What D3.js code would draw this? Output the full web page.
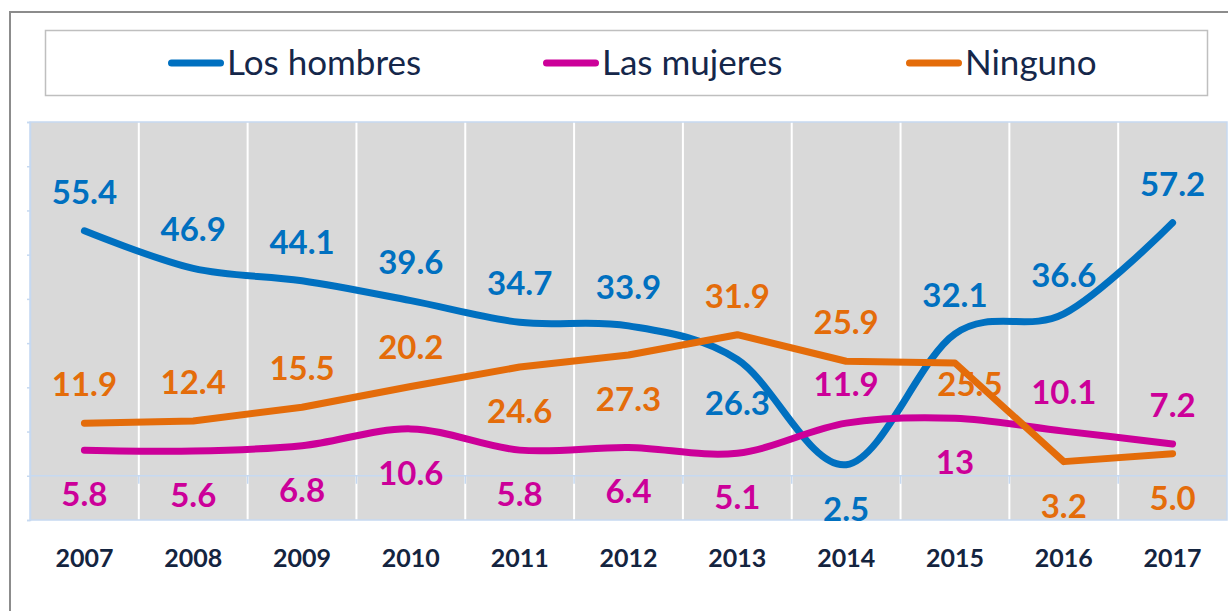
<!DOCTYPE html>
<html>
<head>
<meta charset="utf-8">
<script src="https://cdn.jsdelivr.net/npm/d3@7"></script>
<style>
  body { margin: 0; background: #fff; }
  text { font-family: Lato, "Open Sans", sans-serif; }
</style>
</head>
<body>
<svg id="chart"></svg>
<script>
// values as printed on the chart
var years = ["2007", "2008", "2009", "2010", "2011", "2012", "2013", "2014", "2015", "2016", "2017"];
var hombres = ["55.4", "46.9", "44.1", "39.6", "34.7", "33.9", "26.3", "2.5", "32.1", "36.6", "57.2"];
var mujeres = ["5.8", "5.6", "6.8", "10.6", "5.8", "6.4", "5.1", "11.9", "13", "10.1", "7.2"];
var ninguno = ["11.9", "12.4", "15.5", "20.2", "24.6", "27.3", "31.9", "25.9", "25.5", "3.2", "5.0"];
var seriesNames = ["Los hombres", "Las mujeres", "Ninguno"];
// where each data label sits: a = above, b = below, m = on the line
var hombresSide = ["a", "a", "a", "a", "a", "a", "b", "b", "a", "a", "a"];
var mujeresSide = ["b", "b", "b", "b", "b", "b", "b", "a", "b", "a", "a"];
var ningunoSide = ["a", "a", "a", "a", "b", "b", "a", "a", "m", "b", "b"];

var width = 1228, height = 611;
var colors = ["#0070c0", "#cc0099", "#e46c0a"];
var axisBlue = "#c6d9f1";

var svg = d3.select("#chart").attr("width", width).attr("height", height);

// outer frame
svg.append("path")
    .attr("d", "M10,611 V12 H1228")
    .attr("fill", "none")
    .attr("stroke", "#8c8c8c")
    .attr("stroke-width", 2);

// legend box
svg.append("rect")
    .attr("x", 45.5).attr("y", 30.5)
    .attr("width", 1162).attr("height", 65)
    .attr("fill", "#fff")
    .attr("stroke", "#bfbfbf")
    .attr("stroke-width", 1.5);

var legendX = [168, 543, 906];
var legend = svg.selectAll(".legend")
    .data(seriesNames)
    .enter().append("g")
    .attr("class", "legend")
    .attr("transform", function(d, i) { return "translate(" + legendX[i] + ",63)"; });

legend.append("line")
    .attr("x1", 3.5).attr("x2", 52.5)
    .attr("stroke", function(d, i) { return colors[i]; })
    .attr("stroke-width", 7)
    .attr("stroke-linecap", "round");

legend.append("text")
    .attr("x", 59).attr("y", 12)
    .attr("font-size", 35)
    .attr("fill", "#15274a")
    .text(function(d) { return d; });

// plot area
var plotL = 30, plotR = 1227, plotT = 122, plotB = 520;

var x = d3.scaleBand().domain(years).range([plotL, plotR]);
var y = d3.scaleLinear().domain([-10, 80]).range([plotB, plotT]);
var cx = function(d, i) { return x(years[i]) + x.bandwidth() / 2; };

svg.append("rect")
    .attr("x", plotL).attr("y", plotT)
    .attr("width", plotR - plotL).attr("height", plotB - plotT)
    .attr("fill", "#d9d9d9");

// white vertical gridlines between the years
svg.selectAll(".grid")
    .data(years.slice(1))
    .enter().append("line")
    .attr("class", "grid")
    .attr("x1", function(d) { return x(d); })
    .attr("x2", function(d) { return x(d); })
    .attr("y1", plotT).attr("y2", plotB)
    .attr("stroke", "#fff")
    .attr("stroke-width", 2);

// left value axis, ticks only
var yAxis = svg.append("g")
    .attr("transform", "translate(" + plotL + ",0)")
    .call(d3.axisLeft(y).ticks(9).tickSize(3).tickFormat(""));
yAxis.selectAll("line, path").attr("stroke", axisBlue).attr("stroke-width", 1.5);

// category axis crossing at zero
svg.append("line")
    .attr("x1", plotL).attr("x2", plotR)
    .attr("y1", y(0)).attr("y2", y(0))
    .attr("stroke", axisBlue)
    .attr("stroke-width", 1.5);
svg.selectAll(".xtick")
    .data(years.slice(1))
    .enter().append("line")
    .attr("class", "xtick")
    .attr("x1", function(d) { return x(d); })
    .attr("x2", function(d) { return x(d); })
    .attr("y1", y(0)).attr("y2", y(0) + 8)
    .attr("stroke", axisBlue)
    .attr("stroke-width", 1.5);

// plot border
svg.append("rect")
    .attr("x", plotL).attr("y", plotT)
    .attr("width", plotR - plotL).attr("height", plotB - plotT)
    .attr("fill", "none")
    .attr("stroke", axisBlue)
    .attr("stroke-width", 1.5);

// year labels
svg.selectAll(".year")
    .data(years)
    .enter().append("text")
    .attr("class", "year")
    .attr("x", function(d) { return x(d) + x.bandwidth() / 2; })
    .attr("y", 567)
    .attr("text-anchor", "middle")
    .attr("font-size", 25)
    .attr("font-weight", "bold")
    .attr("fill", "#14243f")
    .text(function(d) { return d; });

// lines
var smooth = d3.line()
    .x(cx)
    .y(function(d) { return y(+d); })
    .curve(d3.curveCardinal.tension(0));
var straight = d3.line()
    .x(cx)
    .y(function(d) { return y(+d); });

var series = [
    { values: hombres, side: hombresSide, line: smooth },
    { values: mujeres, side: mujeresSide, line: smooth },
    { values: ninguno, side: ningunoSide, line: straight }
];

series.forEach(function(s, k) {
    svg.append("path")
        .attr("d", s.line(s.values))
        .attr("fill", "none")
        .attr("stroke", colors[k])
        .attr("stroke-width", 7)
        .attr("stroke-linecap", "round")
        .attr("stroke-linejoin", "round");
});

series.forEach(function(s, k) {
    svg.selectAll(".lbl" + k)
        .data(s.values)
        .enter().append("text")
        .attr("class", "lbl" + k)
        .attr("x", function(d, i) { return cx(d, i) + (s.side[i] === "m" ? 15 : 0); })
        .attr("y", function(d, i) {
            var p = y(+d);
            if (s.side[i] === "a") return p - 27;
            if (s.side[i] === "m") return p + 33;
            return p + 56;
        })
        .attr("text-anchor", "middle")
        .attr("font-size", 33)
        .attr("font-weight", "bold")
        .attr("fill", colors[k])
        .text(function(d) { return d; });
});
</script>
</body>
</html>
